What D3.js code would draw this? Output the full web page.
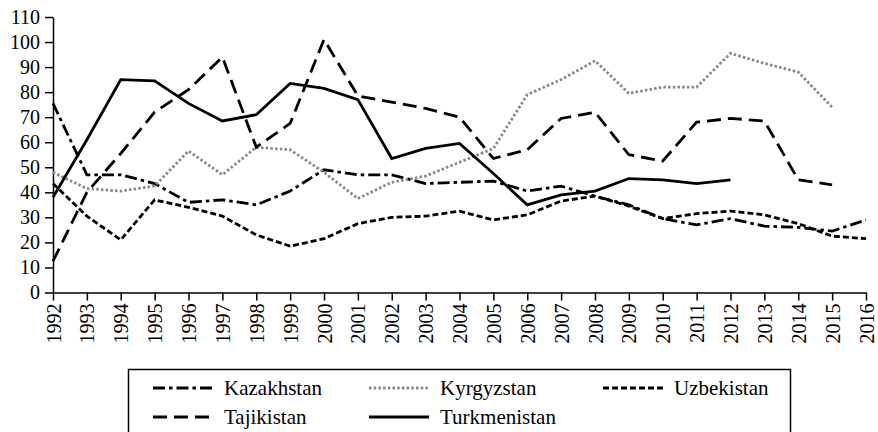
<!DOCTYPE html>
<html>
<head>
<meta charset="utf-8">
<script src="https://cdn.jsdelivr.net/npm/d3@7"></script>
<style>
  body { margin: 0; background: #fff; }
  svg { display: block; }
</style>
</head>
<body>
<div class="grafico"></div>
<script>
// years on the x axis
var years = d3.range(1992, 2017);
var yTicks = [0, 10, 20, 30, 40, 50, 60, 70, 80, 90, 100, 110];

// series values (null = no data)
var kazakhstan = [75.5, 47, 47, 43.5, 36, 37, 35, 40.5, 49, 47, 47, 43.5, 44, 44.5, 40.5, 42.5, 38.5, 35, 29.5, 27, 29.5, 26.5, 26, 24.5, 29];
var kyrgyzstan = [48, 41.5, 40.5, 42.5, 56.5, 47, 58, 57, 48, 37.5, 44, 46.5, 52, 57.5, 79, 85, 92.5, 79.5, 82, 82, 95.5, 91.5, 88, 74, null];
var uzbekistan = [43.5, 30.5, 21, 37, 34, 30.5, 23, 18.5, 21.5, 27.5, 30, 30.5, 32.5, 29, 31, 36.5, 38.5, 34.5, 29.5, 31.5, 32.5, 31, 27.5, 22.5, 21.5];
var tajikistan = [12.5, 40, 55.5, 72, 81, 94, 58, 67.5, 101, 78.5, 76, 73.5, 70, 53.5, 57, 69.5, 72, 55, 52.5, 68, 69.5, 68.5, 45, 43, null];
var turkmenistan = [38, 61, 85, 84.5, 75.5, 68.5, 71, 83.5, 81.5, 77, 53.5, 57.5, 59.5, 47.5, 35, 39, 40.5, 45.5, 45, 43.5, 45, null, null, null, null];

var series = [
  {name: "Kazakhstan", values: kazakhstan, color: "#000", dash: "12,4,3.5,4"},
  {name: "Kyrgyzstan", values: kyrgyzstan, color: "#888", dash: "2.5,2.2"},
  {name: "Uzbekistan", values: uzbekistan, color: "#000", dash: "6,3"},
  {name: "Tajikistan", values: tajikistan, color: "#000", dash: "14,7"},
  {name: "Turkmenistan", values: turkmenistan, color: "#000", dash: null}
];

var width = 878, height = 432;

var svg = d3.select(".grafico")
  .append("svg")
  .attr("width", width)
  .attr("height", height);

var x = d3.scaleLinear().domain([1992, 2016]).range([53, 866]);
var y = d3.scaleLinear().domain([0, 110]).range([292.5, 17]);

// y axis
var yAxis = svg.append("g")
  .attr("transform", "translate(" + x(1992) + ",0)")
  .call(d3.axisLeft(y).tickValues(yTicks).tickSize(8).tickSizeOuter(0).tickPadding(5));
yAxis.attr("font-family", "Liberation Serif").attr("font-size", 20);
yAxis.select(".domain").attr("stroke-width", 1.5);
yAxis.selectAll(".tick line").attr("stroke-width", 1.5);

// x axis
var xAxis = svg.append("g")
  .attr("transform", "translate(0," + y(0) + ")")
  .call(d3.axisBottom(x).tickValues(years).tickFormat(d3.format("d")).tickSize(8).tickSizeOuter(0));
xAxis.attr("font-family", "Liberation Serif").attr("font-size", 20);
xAxis.select(".domain").attr("stroke-width", 1.5);
xAxis.selectAll(".tick line").attr("stroke-width", 1.5);
xAxis.selectAll(".tick text")
  .attr("text-anchor", "end")
  .attr("transform", "translate(7,11) rotate(-90)")
  .attr("x", 0).attr("y", 0).attr("dy", 0);

// lines
var line = d3.line()
  .defined(function(d) { return d != null; })
  .x(function(d, i) { return x(years[i]); })
  .y(function(d) { return y(d); });

svg.selectAll(".serie")
  .data(series)
  .enter()
  .append("path")
    .attr("class", "serie")
    .attr("d", function(d) { return line(d.values); })
    .style("fill", "none")
    .style("stroke", function(d) { return d.color; })
    .style("stroke-width", 2.8)
    .style("stroke-dasharray", function(d) { return d.dash; });

// legend
var legend = svg.append("g");
legend.append("rect")
  .attr("x", 128.5).attr("y", 369.5)
  .attr("width", 662).attr("height", 80)
  .style("fill", "none").style("stroke", "#000").style("stroke-width", 1.5);

var legPos = [
  {lx: 153, ty: 388}, {lx: 369, ty: 388}, {lx: 603, ty: 388},
  {lx: 153, ty: 417}, {lx: 369, ty: 417}
];

var items = legend.selectAll(".item")
  .data(series)
  .enter()
  .append("g")
  .attr("class", "item")
  .attr("transform", function(d, i) { return "translate(" + legPos[i].lx + "," + legPos[i].ty + ")"; });

items.append("line")
  .attr("x1", 0).attr("x2", 60).attr("y1", 0).attr("y2", 0)
  .style("stroke", function(d) { return d.color; })
  .style("stroke-width", 2.8)
  .style("stroke-dasharray", function(d) { return d.dash; });

items.append("text")
  .attr("x", 71).attr("y", 7)
  .attr("font-family", "Liberation Serif")
  .attr("font-size", 21)
  .text(function(d) { return d.name; });
</script>
</body>
</html>
